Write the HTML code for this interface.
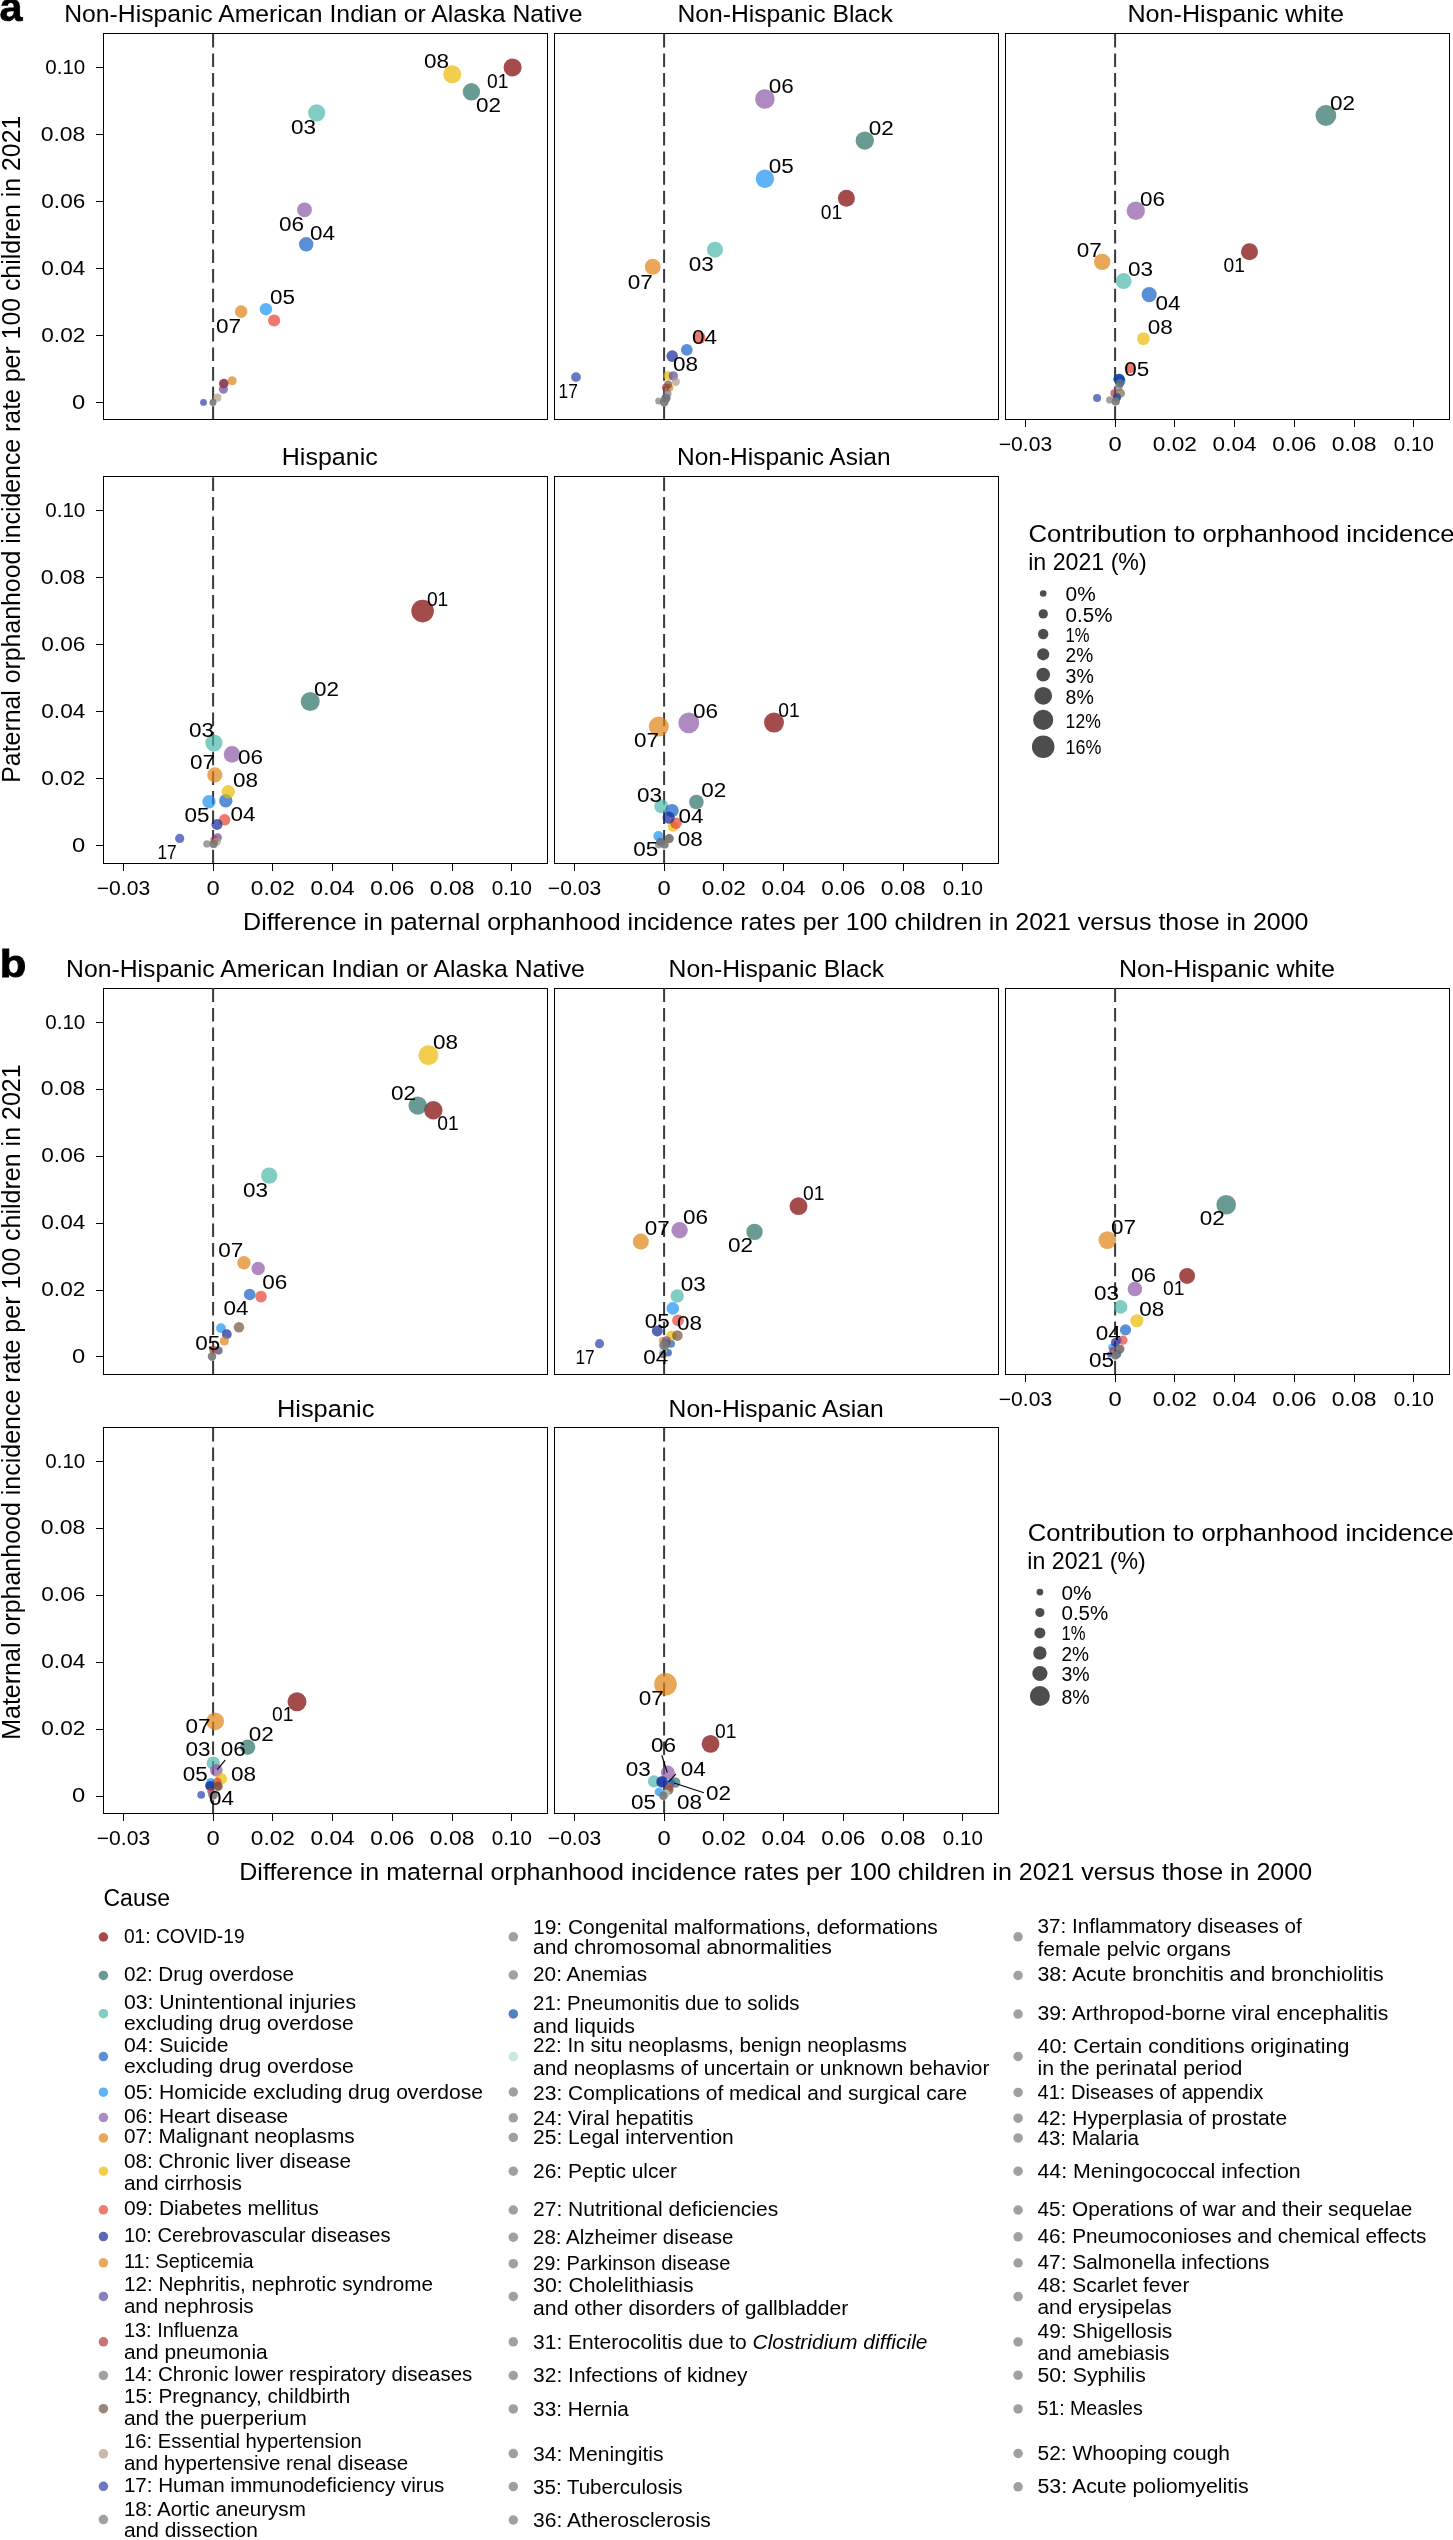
<!DOCTYPE html>
<html><head><meta charset="utf-8"><title>Figure</title>
<style>
html,body{margin:0;padding:0;background:#fff;}
svg{display:block;will-change:transform;}
text{font-family:"Liberation Sans", sans-serif;fill:#000;}
</style></head>
<body>
<svg width="1453" height="2540" viewBox="0 0 1453 2540">
<rect width="1453" height="2540" fill="#fff"/>
<text x="-0.4" y="21.2" font-size="41" font-weight="bold" textLength="23" lengthAdjust="spacingAndGlyphs" stroke="#000" stroke-width="0.7">a</text>
<text x="-0.3" y="976.7" font-size="38.5" font-weight="bold" textLength="26.6" lengthAdjust="spacingAndGlyphs" stroke="#000" stroke-width="0.9">b</text>
<text x="64.2" y="22" font-size="24.5" textLength="518.3" lengthAdjust="spacingAndGlyphs">Non-Hispanic American Indian or Alaska Native</text>
<text x="677.4" y="22.2" font-size="24.5" textLength="215.4" lengthAdjust="spacingAndGlyphs">Non-Hispanic Black</text>
<text x="1127.4" y="22.2" font-size="24.5" textLength="216.6" lengthAdjust="spacingAndGlyphs">Non-Hispanic white</text>
<text x="281.8" y="464.9" font-size="24.5" textLength="96" lengthAdjust="spacingAndGlyphs">Hispanic</text>
<text x="677" y="465" font-size="24.5" textLength="213.6" lengthAdjust="spacingAndGlyphs">Non-Hispanic Asian</text>
<text x="66" y="976.8" font-size="24.5" textLength="518.9" lengthAdjust="spacingAndGlyphs">Non-Hispanic American Indian or Alaska Native</text>
<text x="668.6" y="976.8" font-size="24.5" textLength="215.6" lengthAdjust="spacingAndGlyphs">Non-Hispanic Black</text>
<text x="1118.9" y="976.8" font-size="24.5" textLength="216.1" lengthAdjust="spacingAndGlyphs">Non-Hispanic white</text>
<text x="276.9" y="1417.1" font-size="24.5" textLength="97.5" lengthAdjust="spacingAndGlyphs">Hispanic</text>
<text x="668.6" y="1417.1" font-size="24.5" textLength="215" lengthAdjust="spacingAndGlyphs">Non-Hispanic Asian</text>
<g fill="none" stroke="#000" stroke-width="1" shape-rendering="crispEdges">
<rect x="103.5" y="33.5" width="444" height="386"/>
<line x1="96" y1="402.5" x2="103" y2="402.5"/>
<line x1="96" y1="335.5" x2="103" y2="335.5"/>
<line x1="96" y1="268.5" x2="103" y2="268.5"/>
<line x1="96" y1="201.5" x2="103" y2="201.5"/>
<line x1="96" y1="134.5" x2="103" y2="134.5"/>
<line x1="96" y1="67.5" x2="103" y2="67.5"/>
<rect x="554.5" y="33.5" width="444" height="386"/>
<rect x="1005.5" y="33.5" width="444" height="386"/>
<line x1="1025.5" y1="419" x2="1025.5" y2="427"/>
<line x1="1115.5" y1="419" x2="1115.5" y2="427"/>
<line x1="1174.5" y1="419" x2="1174.5" y2="427"/>
<line x1="1234.5" y1="419" x2="1234.5" y2="427"/>
<line x1="1294.5" y1="419" x2="1294.5" y2="427"/>
<line x1="1354.5" y1="419" x2="1354.5" y2="427"/>
<line x1="1413.5" y1="419" x2="1413.5" y2="427"/>
<rect x="103.5" y="476.5" width="444" height="387"/>
<line x1="96" y1="845.5" x2="103" y2="845.5"/>
<line x1="96" y1="778.5" x2="103" y2="778.5"/>
<line x1="96" y1="711.5" x2="103" y2="711.5"/>
<line x1="96" y1="644.5" x2="103" y2="644.5"/>
<line x1="96" y1="577.5" x2="103" y2="577.5"/>
<line x1="96" y1="510.5" x2="103" y2="510.5"/>
<line x1="123.5" y1="863" x2="123.5" y2="871"/>
<line x1="213.5" y1="863" x2="213.5" y2="871"/>
<line x1="272.5" y1="863" x2="272.5" y2="871"/>
<line x1="332.5" y1="863" x2="332.5" y2="871"/>
<line x1="392.5" y1="863" x2="392.5" y2="871"/>
<line x1="452.5" y1="863" x2="452.5" y2="871"/>
<line x1="511.5" y1="863" x2="511.5" y2="871"/>
<rect x="554.5" y="476.5" width="444" height="387"/>
<line x1="574.5" y1="863" x2="574.5" y2="871"/>
<line x1="664.5" y1="863" x2="664.5" y2="871"/>
<line x1="723.5" y1="863" x2="723.5" y2="871"/>
<line x1="783.5" y1="863" x2="783.5" y2="871"/>
<line x1="843.5" y1="863" x2="843.5" y2="871"/>
<line x1="903.5" y1="863" x2="903.5" y2="871"/>
<line x1="962.5" y1="863" x2="962.5" y2="871"/>
<rect x="103.5" y="988.5" width="444" height="386"/>
<line x1="96" y1="1356.5" x2="103" y2="1356.5"/>
<line x1="96" y1="1290.5" x2="103" y2="1290.5"/>
<line x1="96" y1="1223.5" x2="103" y2="1223.5"/>
<line x1="96" y1="1156.5" x2="103" y2="1156.5"/>
<line x1="96" y1="1089.5" x2="103" y2="1089.5"/>
<line x1="96" y1="1022.5" x2="103" y2="1022.5"/>
<rect x="554.5" y="988.5" width="444" height="386"/>
<rect x="1005.5" y="988.5" width="444" height="386"/>
<line x1="1025.5" y1="1374" x2="1025.5" y2="1382"/>
<line x1="1115.5" y1="1374" x2="1115.5" y2="1382"/>
<line x1="1174.5" y1="1374" x2="1174.5" y2="1382"/>
<line x1="1234.5" y1="1374" x2="1234.5" y2="1382"/>
<line x1="1294.5" y1="1374" x2="1294.5" y2="1382"/>
<line x1="1354.5" y1="1374" x2="1354.5" y2="1382"/>
<line x1="1413.5" y1="1374" x2="1413.5" y2="1382"/>
<rect x="103.5" y="1427.5" width="444" height="386"/>
<line x1="96" y1="1796.5" x2="103" y2="1796.5"/>
<line x1="96" y1="1729.5" x2="103" y2="1729.5"/>
<line x1="96" y1="1662.5" x2="103" y2="1662.5"/>
<line x1="96" y1="1595.5" x2="103" y2="1595.5"/>
<line x1="96" y1="1528.5" x2="103" y2="1528.5"/>
<line x1="96" y1="1461.5" x2="103" y2="1461.5"/>
<line x1="123.5" y1="1813" x2="123.5" y2="1821"/>
<line x1="213.5" y1="1813" x2="213.5" y2="1821"/>
<line x1="272.5" y1="1813" x2="272.5" y2="1821"/>
<line x1="332.5" y1="1813" x2="332.5" y2="1821"/>
<line x1="392.5" y1="1813" x2="392.5" y2="1821"/>
<line x1="452.5" y1="1813" x2="452.5" y2="1821"/>
<line x1="511.5" y1="1813" x2="511.5" y2="1821"/>
<rect x="554.5" y="1427.5" width="444" height="386"/>
<line x1="574.5" y1="1813" x2="574.5" y2="1821"/>
<line x1="664.5" y1="1813" x2="664.5" y2="1821"/>
<line x1="723.5" y1="1813" x2="723.5" y2="1821"/>
<line x1="783.5" y1="1813" x2="783.5" y2="1821"/>
<line x1="843.5" y1="1813" x2="843.5" y2="1821"/>
<line x1="903.5" y1="1813" x2="903.5" y2="1821"/>
<line x1="962.5" y1="1813" x2="962.5" y2="1821"/>
</g>
<g stroke="#3a3a3a" stroke-width="2" stroke-dasharray="13.6 6.0">
<line x1="213.1" y1="33.9" x2="213.1" y2="419"/>
<line x1="664.1" y1="33.9" x2="664.1" y2="419"/>
<line x1="1115.1" y1="33.9" x2="1115.1" y2="419"/>
<line x1="213.1" y1="477.3" x2="213.1" y2="863"/>
<line x1="664.1" y1="477.3" x2="664.1" y2="863"/>
<line x1="213.1" y1="988.3" x2="213.1" y2="1374"/>
<line x1="664.1" y1="988.3" x2="664.1" y2="1374"/>
<line x1="1115.1" y1="988.3" x2="1115.1" y2="1374"/>
<line x1="213.1" y1="1427.8" x2="213.1" y2="1813"/>
<line x1="664.1" y1="1427.8" x2="664.1" y2="1813"/>
</g>
<text x="85.3" y="408.9" font-size="20" text-anchor="end" textLength="13.2" lengthAdjust="spacingAndGlyphs">0</text>
<text x="85.3" y="341.92" font-size="20" text-anchor="end" textLength="44" lengthAdjust="spacingAndGlyphs">0.02</text>
<text x="85.3" y="274.94" font-size="20" text-anchor="end" textLength="44" lengthAdjust="spacingAndGlyphs">0.04</text>
<text x="85.3" y="207.96" font-size="20" text-anchor="end" textLength="44" lengthAdjust="spacingAndGlyphs">0.06</text>
<text x="85.3" y="140.98" font-size="20" text-anchor="end" textLength="44.6" lengthAdjust="spacingAndGlyphs">0.08</text>
<text x="85.3" y="74" font-size="20" text-anchor="end" textLength="40" lengthAdjust="spacingAndGlyphs">0.10</text>
<text x="1025.47" y="451.3" font-size="20" text-anchor="middle" textLength="53.3" lengthAdjust="spacingAndGlyphs">−0.03</text>
<text x="1115.1" y="451.3" font-size="20" text-anchor="middle" textLength="13.2" lengthAdjust="spacingAndGlyphs">0</text>
<text x="1174.85" y="451.3" font-size="20" text-anchor="middle" textLength="44" lengthAdjust="spacingAndGlyphs">0.02</text>
<text x="1234.6" y="451.3" font-size="20" text-anchor="middle" textLength="44" lengthAdjust="spacingAndGlyphs">0.04</text>
<text x="1294.35" y="451.3" font-size="20" text-anchor="middle" textLength="44" lengthAdjust="spacingAndGlyphs">0.06</text>
<text x="1354.1" y="451.3" font-size="20" text-anchor="middle" textLength="44.6" lengthAdjust="spacingAndGlyphs">0.08</text>
<text x="1413.85" y="451.3" font-size="20" text-anchor="middle" textLength="40" lengthAdjust="spacingAndGlyphs">0.10</text>
<text x="85.3" y="851.9" font-size="20" text-anchor="end" textLength="13.2" lengthAdjust="spacingAndGlyphs">0</text>
<text x="85.3" y="784.92" font-size="20" text-anchor="end" textLength="44" lengthAdjust="spacingAndGlyphs">0.02</text>
<text x="85.3" y="717.94" font-size="20" text-anchor="end" textLength="44" lengthAdjust="spacingAndGlyphs">0.04</text>
<text x="85.3" y="650.96" font-size="20" text-anchor="end" textLength="44" lengthAdjust="spacingAndGlyphs">0.06</text>
<text x="85.3" y="583.98" font-size="20" text-anchor="end" textLength="44.6" lengthAdjust="spacingAndGlyphs">0.08</text>
<text x="85.3" y="517" font-size="20" text-anchor="end" textLength="40" lengthAdjust="spacingAndGlyphs">0.10</text>
<text x="123.47" y="895.3" font-size="20" text-anchor="middle" textLength="53.3" lengthAdjust="spacingAndGlyphs">−0.03</text>
<text x="213.1" y="895.3" font-size="20" text-anchor="middle" textLength="13.2" lengthAdjust="spacingAndGlyphs">0</text>
<text x="272.85" y="895.3" font-size="20" text-anchor="middle" textLength="44" lengthAdjust="spacingAndGlyphs">0.02</text>
<text x="332.6" y="895.3" font-size="20" text-anchor="middle" textLength="44" lengthAdjust="spacingAndGlyphs">0.04</text>
<text x="392.35" y="895.3" font-size="20" text-anchor="middle" textLength="44" lengthAdjust="spacingAndGlyphs">0.06</text>
<text x="452.1" y="895.3" font-size="20" text-anchor="middle" textLength="44.6" lengthAdjust="spacingAndGlyphs">0.08</text>
<text x="511.85" y="895.3" font-size="20" text-anchor="middle" textLength="40" lengthAdjust="spacingAndGlyphs">0.10</text>
<text x="574.48" y="895.3" font-size="20" text-anchor="middle" textLength="53.3" lengthAdjust="spacingAndGlyphs">−0.03</text>
<text x="664.1" y="895.3" font-size="20" text-anchor="middle" textLength="13.2" lengthAdjust="spacingAndGlyphs">0</text>
<text x="723.85" y="895.3" font-size="20" text-anchor="middle" textLength="44" lengthAdjust="spacingAndGlyphs">0.02</text>
<text x="783.6" y="895.3" font-size="20" text-anchor="middle" textLength="44" lengthAdjust="spacingAndGlyphs">0.04</text>
<text x="843.35" y="895.3" font-size="20" text-anchor="middle" textLength="44" lengthAdjust="spacingAndGlyphs">0.06</text>
<text x="903.1" y="895.3" font-size="20" text-anchor="middle" textLength="44.6" lengthAdjust="spacingAndGlyphs">0.08</text>
<text x="962.85" y="895.3" font-size="20" text-anchor="middle" textLength="40" lengthAdjust="spacingAndGlyphs">0.10</text>
<text x="85.3" y="1363.4" font-size="20" text-anchor="end" textLength="13.2" lengthAdjust="spacingAndGlyphs">0</text>
<text x="85.3" y="1296.42" font-size="20" text-anchor="end" textLength="44" lengthAdjust="spacingAndGlyphs">0.02</text>
<text x="85.3" y="1229.44" font-size="20" text-anchor="end" textLength="44" lengthAdjust="spacingAndGlyphs">0.04</text>
<text x="85.3" y="1162.46" font-size="20" text-anchor="end" textLength="44" lengthAdjust="spacingAndGlyphs">0.06</text>
<text x="85.3" y="1095.48" font-size="20" text-anchor="end" textLength="44.6" lengthAdjust="spacingAndGlyphs">0.08</text>
<text x="85.3" y="1028.5" font-size="20" text-anchor="end" textLength="40" lengthAdjust="spacingAndGlyphs">0.10</text>
<text x="1025.47" y="1406.3" font-size="20" text-anchor="middle" textLength="53.3" lengthAdjust="spacingAndGlyphs">−0.03</text>
<text x="1115.1" y="1406.3" font-size="20" text-anchor="middle" textLength="13.2" lengthAdjust="spacingAndGlyphs">0</text>
<text x="1174.85" y="1406.3" font-size="20" text-anchor="middle" textLength="44" lengthAdjust="spacingAndGlyphs">0.02</text>
<text x="1234.6" y="1406.3" font-size="20" text-anchor="middle" textLength="44" lengthAdjust="spacingAndGlyphs">0.04</text>
<text x="1294.35" y="1406.3" font-size="20" text-anchor="middle" textLength="44" lengthAdjust="spacingAndGlyphs">0.06</text>
<text x="1354.1" y="1406.3" font-size="20" text-anchor="middle" textLength="44.6" lengthAdjust="spacingAndGlyphs">0.08</text>
<text x="1413.85" y="1406.3" font-size="20" text-anchor="middle" textLength="40" lengthAdjust="spacingAndGlyphs">0.10</text>
<text x="85.3" y="1802.4" font-size="20" text-anchor="end" textLength="13.2" lengthAdjust="spacingAndGlyphs">0</text>
<text x="85.3" y="1735.42" font-size="20" text-anchor="end" textLength="44" lengthAdjust="spacingAndGlyphs">0.02</text>
<text x="85.3" y="1668.44" font-size="20" text-anchor="end" textLength="44" lengthAdjust="spacingAndGlyphs">0.04</text>
<text x="85.3" y="1601.46" font-size="20" text-anchor="end" textLength="44" lengthAdjust="spacingAndGlyphs">0.06</text>
<text x="85.3" y="1534.48" font-size="20" text-anchor="end" textLength="44.6" lengthAdjust="spacingAndGlyphs">0.08</text>
<text x="85.3" y="1467.5" font-size="20" text-anchor="end" textLength="40" lengthAdjust="spacingAndGlyphs">0.10</text>
<text x="123.47" y="1845.3" font-size="20" text-anchor="middle" textLength="53.3" lengthAdjust="spacingAndGlyphs">−0.03</text>
<text x="213.1" y="1845.3" font-size="20" text-anchor="middle" textLength="13.2" lengthAdjust="spacingAndGlyphs">0</text>
<text x="272.85" y="1845.3" font-size="20" text-anchor="middle" textLength="44" lengthAdjust="spacingAndGlyphs">0.02</text>
<text x="332.6" y="1845.3" font-size="20" text-anchor="middle" textLength="44" lengthAdjust="spacingAndGlyphs">0.04</text>
<text x="392.35" y="1845.3" font-size="20" text-anchor="middle" textLength="44" lengthAdjust="spacingAndGlyphs">0.06</text>
<text x="452.1" y="1845.3" font-size="20" text-anchor="middle" textLength="44.6" lengthAdjust="spacingAndGlyphs">0.08</text>
<text x="511.85" y="1845.3" font-size="20" text-anchor="middle" textLength="40" lengthAdjust="spacingAndGlyphs">0.10</text>
<text x="574.48" y="1845.3" font-size="20" text-anchor="middle" textLength="53.3" lengthAdjust="spacingAndGlyphs">−0.03</text>
<text x="664.1" y="1845.3" font-size="20" text-anchor="middle" textLength="13.2" lengthAdjust="spacingAndGlyphs">0</text>
<text x="723.85" y="1845.3" font-size="20" text-anchor="middle" textLength="44" lengthAdjust="spacingAndGlyphs">0.02</text>
<text x="783.6" y="1845.3" font-size="20" text-anchor="middle" textLength="44" lengthAdjust="spacingAndGlyphs">0.04</text>
<text x="843.35" y="1845.3" font-size="20" text-anchor="middle" textLength="44" lengthAdjust="spacingAndGlyphs">0.06</text>
<text x="903.1" y="1845.3" font-size="20" text-anchor="middle" textLength="44.6" lengthAdjust="spacingAndGlyphs">0.08</text>
<text x="962.85" y="1845.3" font-size="20" text-anchor="middle" textLength="40" lengthAdjust="spacingAndGlyphs">0.10</text>
<g fill-opacity="0.7">
<circle cx="512.6" cy="67.4" r="9" fill="#7E0000"/>
<circle cx="471.4" cy="91.8" r="8.7" fill="#2A6F65"/>
<circle cx="316.7" cy="112.8" r="8.6" fill="#4CB6A9"/>
<circle cx="306.2" cy="244.3" r="7.2" fill="#135FC4"/>
<circle cx="265.9" cy="309.2" r="6.2" fill="#1992F1"/>
<circle cx="304.5" cy="209.8" r="7.4" fill="#8B59A6"/>
<circle cx="241.1" cy="311.6" r="6.3" fill="#E08113"/>
<circle cx="452.3" cy="74.3" r="9" fill="#EBBA00"/>
<circle cx="274.1" cy="320.5" r="6.1" fill="#E74230"/>
<circle cx="224" cy="383.5" r="4.7" fill="#132795"/>
<circle cx="232.2" cy="380.7" r="4.5" fill="#E08113"/>
<circle cx="223.4" cy="389.2" r="4.5" fill="#5948A4"/>
<circle cx="223.4" cy="383.7" r="4.5" fill="#B03838"/>
<circle cx="217.3" cy="397.7" r="4.1" fill="#B29A83"/>
<circle cx="203.5" cy="402.4" r="3.4" fill="#2A3EA8"/>
<circle cx="213" cy="402.4" r="3.4" fill="#777777"/>
<circle cx="213" cy="402.4" r="3.4" fill="#777777"/>
</g>
<text x="424" y="67.7" font-size="20" textLength="25" lengthAdjust="spacingAndGlyphs">08</text>
<text x="487.1" y="88" font-size="20" textLength="21.4" lengthAdjust="spacingAndGlyphs">01</text>
<text x="476" y="112" font-size="20" textLength="25" lengthAdjust="spacingAndGlyphs">02</text>
<text x="291.1" y="133.8" font-size="20" textLength="25" lengthAdjust="spacingAndGlyphs">03</text>
<text x="279.1" y="231" font-size="20" textLength="25" lengthAdjust="spacingAndGlyphs">06</text>
<text x="310.1" y="240" font-size="20" textLength="25" lengthAdjust="spacingAndGlyphs">04</text>
<text x="269.9" y="304.2" font-size="20" textLength="25" lengthAdjust="spacingAndGlyphs">05</text>
<text x="215.9" y="333.2" font-size="20" textLength="25" lengthAdjust="spacingAndGlyphs">07</text>
<g fill-opacity="0.7">
<circle cx="846.4" cy="198.3" r="8.5" fill="#7E0000"/>
<circle cx="864.8" cy="140.6" r="9.2" fill="#2A6F65"/>
<circle cx="715" cy="249.7" r="8" fill="#4CB6A9"/>
<circle cx="686.8" cy="349.8" r="5.9" fill="#135FC4"/>
<circle cx="764.9" cy="178.8" r="9.2" fill="#1992F1"/>
<circle cx="764.9" cy="99" r="9.8" fill="#8B59A6"/>
<circle cx="652.7" cy="266.8" r="8" fill="#E08113"/>
<circle cx="668.1" cy="375.7" r="4.7" fill="#EBBA00"/>
<circle cx="699.2" cy="337.7" r="6.3" fill="#E74230"/>
<circle cx="672.2" cy="356.1" r="5.8" fill="#132795"/>
<circle cx="669.7" cy="387.8" r="3.8" fill="#E08113"/>
<circle cx="673.3" cy="375.9" r="4.7" fill="#5948A4"/>
<circle cx="665.9" cy="387.5" r="4" fill="#B03838"/>
<circle cx="668.1" cy="384.5" r="4" fill="#72523B"/>
<circle cx="675.8" cy="381.7" r="4.2" fill="#B29A83"/>
<circle cx="576" cy="377.1" r="4.9" fill="#2A3EA8"/>
<circle cx="665.9" cy="398.2" r="4.5" fill="#094AA5"/>
<circle cx="667.5" cy="393.8" r="4" fill="#777777"/>
<circle cx="665.9" cy="398.2" r="4.5" fill="#777777"/>
<circle cx="664.2" cy="402.1" r="4.3" fill="#777777"/>
<circle cx="664.2" cy="402.1" r="4.3" fill="#777777"/>
<circle cx="658.7" cy="401" r="3.5" fill="#777777"/>
</g>
<text x="768.8" y="92.6" font-size="20" textLength="25" lengthAdjust="spacingAndGlyphs">06</text>
<text x="868.8" y="134.8" font-size="20" textLength="25" lengthAdjust="spacingAndGlyphs">02</text>
<text x="768.8" y="173" font-size="20" textLength="25" lengthAdjust="spacingAndGlyphs">05</text>
<text x="820.8" y="218.8" font-size="20" textLength="21.4" lengthAdjust="spacingAndGlyphs">01</text>
<text x="688.8" y="270.7" font-size="20" textLength="25" lengthAdjust="spacingAndGlyphs">03</text>
<text x="627.7" y="288.5" font-size="20" textLength="25" lengthAdjust="spacingAndGlyphs">07</text>
<text x="692.1" y="343.8" font-size="20" textLength="25" lengthAdjust="spacingAndGlyphs">04</text>
<text x="672.9" y="370.7" font-size="20" textLength="25" lengthAdjust="spacingAndGlyphs">08</text>
<text x="558.6" y="398.2" font-size="20" textLength="19.2" lengthAdjust="spacingAndGlyphs">17</text>
<g fill-opacity="0.7">
<circle cx="1249.5" cy="251.8" r="8.5" fill="#7E0000"/>
<circle cx="1325.9" cy="115.5" r="10.4" fill="#2A6F65"/>
<circle cx="1123.6" cy="281.1" r="8" fill="#4CB6A9"/>
<circle cx="1149.2" cy="294.6" r="7.6" fill="#135FC4"/>
<circle cx="1117" cy="397.3" r="4" fill="#135FC4"/>
<circle cx="1120.6" cy="380.8" r="5" fill="#1992F1"/>
<circle cx="1135.8" cy="210.8" r="9.2" fill="#8B59A6"/>
<circle cx="1102.2" cy="261.9" r="8.2" fill="#E08113"/>
<circle cx="1143.4" cy="338.6" r="6.4" fill="#EBBA00"/>
<circle cx="1130" cy="368" r="5.3" fill="#E74230"/>
<circle cx="1119.1" cy="379.3" r="5.6" fill="#132795"/>
<circle cx="1114.4" cy="393.2" r="4" fill="#B03838"/>
<circle cx="1120.6" cy="393.2" r="4.3" fill="#72523B"/>
<circle cx="1120.6" cy="393.2" r="4.3" fill="#B29A83"/>
<circle cx="1120.1" cy="383.3" r="4.2" fill="#2A3EA8"/>
<circle cx="1097.1" cy="398.1" r="4" fill="#2A3EA8"/>
<circle cx="1119.1" cy="379.3" r="5.6" fill="#094AA5"/>
<circle cx="1117" cy="397.3" r="4" fill="#094AA5"/>
<circle cx="1120.1" cy="383.3" r="4.2" fill="#777777"/>
<circle cx="1118.6" cy="387" r="4" fill="#777777"/>
<circle cx="1109.8" cy="399.9" r="3.7" fill="#777777"/>
<circle cx="1115.7" cy="401.5" r="4" fill="#777777"/>
<circle cx="1115.7" cy="401.5" r="4" fill="#777777"/>
</g>
<text x="1330.1" y="110" font-size="20" textLength="25" lengthAdjust="spacingAndGlyphs">02</text>
<text x="1140.1" y="205.6" font-size="20" textLength="25" lengthAdjust="spacingAndGlyphs">06</text>
<text x="1076.8" y="257" font-size="20" textLength="25" lengthAdjust="spacingAndGlyphs">07</text>
<text x="1127.9" y="276" font-size="20" textLength="25" lengthAdjust="spacingAndGlyphs">03</text>
<text x="1223.5" y="272" font-size="20" textLength="21.4" lengthAdjust="spacingAndGlyphs">01</text>
<text x="1155.4" y="309.5" font-size="20" textLength="25" lengthAdjust="spacingAndGlyphs">04</text>
<text x="1147.7" y="334" font-size="20" textLength="25" lengthAdjust="spacingAndGlyphs">08</text>
<text x="1124.2" y="375.9" font-size="20" textLength="25" lengthAdjust="spacingAndGlyphs">05</text>
<g fill-opacity="0.7">
<circle cx="422.6" cy="611.1" r="11.3" fill="#7E0000"/>
<circle cx="310.2" cy="701.5" r="9.5" fill="#2A6F65"/>
<circle cx="213.9" cy="742.8" r="8.6" fill="#4CB6A9"/>
<circle cx="225.8" cy="800.8" r="6.7" fill="#135FC4"/>
<circle cx="209" cy="801.7" r="6.7" fill="#1992F1"/>
<circle cx="232" cy="754.4" r="8.3" fill="#8B59A6"/>
<circle cx="214.8" cy="774.9" r="7.6" fill="#E08113"/>
<circle cx="228.3" cy="791.7" r="6.7" fill="#EBBA00"/>
<circle cx="224.6" cy="819.8" r="5.8" fill="#E74230"/>
<circle cx="217" cy="824.4" r="5.5" fill="#132795"/>
<circle cx="217.6" cy="837.5" r="4.3" fill="#5948A4"/>
<circle cx="214.5" cy="840" r="4.2" fill="#B03838"/>
<circle cx="217" cy="841.5" r="4" fill="#B29A83"/>
<circle cx="179.7" cy="838.4" r="4.6" fill="#2A3EA8"/>
<circle cx="206.9" cy="843.9" r="3.7" fill="#777777"/>
<circle cx="213.6" cy="843.9" r="4" fill="#777777"/>
<circle cx="213.6" cy="843.9" r="4" fill="#777777"/>
</g>
<text x="426.9" y="605.9" font-size="20" textLength="21.4" lengthAdjust="spacingAndGlyphs">01</text>
<text x="313.9" y="696" font-size="20" textLength="25" lengthAdjust="spacingAndGlyphs">02</text>
<text x="188.9" y="736.7" font-size="20" textLength="25" lengthAdjust="spacingAndGlyphs">03</text>
<text x="238.1" y="763.8" font-size="20" textLength="25" lengthAdjust="spacingAndGlyphs">06</text>
<text x="190.1" y="768.7" font-size="20" textLength="25" lengthAdjust="spacingAndGlyphs">07</text>
<text x="232.9" y="787.1" font-size="20" textLength="25" lengthAdjust="spacingAndGlyphs">08</text>
<text x="184.6" y="821.9" font-size="20" textLength="25" lengthAdjust="spacingAndGlyphs">05</text>
<text x="230.4" y="821.3" font-size="20" textLength="25" lengthAdjust="spacingAndGlyphs">04</text>
<text x="157.4" y="858.6" font-size="20" textLength="19.2" lengthAdjust="spacingAndGlyphs">17</text>
<g fill-opacity="0.7">
<circle cx="774" cy="722.6" r="10" fill="#7E0000"/>
<circle cx="696.4" cy="802" r="7.3" fill="#2A6F65"/>
<circle cx="661.3" cy="806.3" r="7" fill="#4CB6A9"/>
<circle cx="672" cy="810.6" r="6.7" fill="#135FC4"/>
<circle cx="658.4" cy="836.1" r="5" fill="#1992F1"/>
<circle cx="688.8" cy="722.9" r="10.4" fill="#8B59A6"/>
<circle cx="658.8" cy="726.6" r="10" fill="#E08113"/>
<circle cx="673.2" cy="826.5" r="5.2" fill="#EBBA00"/>
<circle cx="676" cy="823.2" r="5.8" fill="#E74230"/>
<circle cx="668.6" cy="817.6" r="6.1" fill="#132795"/>
<circle cx="669.2" cy="838.6" r="4.5" fill="#72523B"/>
<circle cx="660.5" cy="841.9" r="4" fill="#094AA5"/>
<circle cx="669.2" cy="838.6" r="4.5" fill="#777777"/>
<circle cx="658.8" cy="844.4" r="3.8" fill="#777777"/>
<circle cx="660.5" cy="841.9" r="4" fill="#777777"/>
<circle cx="664.6" cy="844.4" r="4" fill="#777777"/>
<circle cx="664.6" cy="844.4" r="4" fill="#777777"/>
</g>
<text x="693.1" y="718" font-size="20" textLength="25" lengthAdjust="spacingAndGlyphs">06</text>
<text x="778.3" y="717.4" font-size="20" textLength="21.4" lengthAdjust="spacingAndGlyphs">01</text>
<text x="634.1" y="747" font-size="20" textLength="25" lengthAdjust="spacingAndGlyphs">07</text>
<text x="701.3" y="796.9" font-size="20" textLength="25" lengthAdjust="spacingAndGlyphs">02</text>
<text x="637.1" y="802.4" font-size="20" textLength="25" lengthAdjust="spacingAndGlyphs">03</text>
<text x="678.4" y="822.8" font-size="20" textLength="25" lengthAdjust="spacingAndGlyphs">04</text>
<text x="677.8" y="845.7" font-size="20" textLength="25" lengthAdjust="spacingAndGlyphs">08</text>
<text x="633.2" y="856.4" font-size="20" textLength="25" lengthAdjust="spacingAndGlyphs">05</text>
<g fill-opacity="0.7">
<circle cx="433.3" cy="1110.2" r="9.2" fill="#7E0000"/>
<circle cx="417.7" cy="1105.6" r="9.2" fill="#2A6F65"/>
<circle cx="269.2" cy="1175.6" r="8.2" fill="#4CB6A9"/>
<circle cx="249.7" cy="1294.5" r="5.8" fill="#135FC4"/>
<circle cx="221" cy="1328.1" r="4.9" fill="#1992F1"/>
<circle cx="258.2" cy="1268.5" r="6.7" fill="#8B59A6"/>
<circle cx="243.9" cy="1262.7" r="6.7" fill="#E08113"/>
<circle cx="428.4" cy="1055.2" r="10" fill="#EBBA00"/>
<circle cx="261" cy="1296.6" r="5.8" fill="#E74230"/>
<circle cx="226.8" cy="1334.2" r="4.9" fill="#132795"/>
<circle cx="224.3" cy="1341" r="4.6" fill="#E08113"/>
<circle cx="218.5" cy="1350.4" r="4" fill="#5948A4"/>
<circle cx="213.2" cy="1349.7" r="3.9" fill="#B03838"/>
<circle cx="239" cy="1327.2" r="5.2" fill="#72523B"/>
<circle cx="218.5" cy="1350.4" r="4" fill="#777777"/>
<circle cx="212" cy="1356.5" r="4.2" fill="#777777"/>
<circle cx="212" cy="1356.5" r="4.2" fill="#777777"/>
</g>
<text x="433.1" y="1049.1" font-size="20" textLength="25" lengthAdjust="spacingAndGlyphs">08</text>
<text x="390.9" y="1099.8" font-size="20" textLength="25" lengthAdjust="spacingAndGlyphs">02</text>
<text x="437.3" y="1130.1" font-size="20" textLength="21.4" lengthAdjust="spacingAndGlyphs">01</text>
<text x="243" y="1196.7" font-size="20" textLength="25" lengthAdjust="spacingAndGlyphs">03</text>
<text x="218.2" y="1256.9" font-size="20" textLength="25" lengthAdjust="spacingAndGlyphs">07</text>
<text x="262.2" y="1289" font-size="20" textLength="25" lengthAdjust="spacingAndGlyphs">06</text>
<text x="223.4" y="1315" font-size="20" textLength="25" lengthAdjust="spacingAndGlyphs">04</text>
<text x="195.3" y="1349.5" font-size="20" textLength="25" lengthAdjust="spacingAndGlyphs">05</text>
<g fill-opacity="0.7">
<circle cx="798.5" cy="1206.2" r="8.9" fill="#7E0000"/>
<circle cx="754.5" cy="1231.9" r="8.2" fill="#2A6F65"/>
<circle cx="677.2" cy="1296" r="6.7" fill="#4CB6A9"/>
<circle cx="671" cy="1343.7" r="4" fill="#135FC4"/>
<circle cx="672.8" cy="1308.4" r="6.3" fill="#1992F1"/>
<circle cx="679.6" cy="1230.3" r="8.2" fill="#8B59A6"/>
<circle cx="640.8" cy="1241.6" r="8" fill="#E08113"/>
<circle cx="671.4" cy="1335.8" r="5.2" fill="#EBBA00"/>
<circle cx="678" cy="1320.3" r="5.9" fill="#E74230"/>
<circle cx="657.3" cy="1330.9" r="5.5" fill="#132795"/>
<circle cx="662.3" cy="1340.4" r="3.5" fill="#E08113"/>
<circle cx="666.4" cy="1340.8" r="4.5" fill="#5948A4"/>
<circle cx="677.4" cy="1335.6" r="5.3" fill="#72523B"/>
<circle cx="666.4" cy="1343.5" r="4" fill="#72523B"/>
<circle cx="599.5" cy="1343.7" r="4.6" fill="#2A3EA8"/>
<circle cx="668.1" cy="1352.8" r="3.8" fill="#094AA5"/>
<circle cx="663.1" cy="1351.1" r="4" fill="#B0DED6"/>
<circle cx="664.4" cy="1345.3" r="5" fill="#777777"/>
<circle cx="664.4" cy="1345.3" r="5" fill="#777777"/>
<circle cx="663.1" cy="1354.4" r="3.7" fill="#777777"/>
<circle cx="663.1" cy="1354.4" r="3.7" fill="#777777"/>
</g>
<text x="803.1" y="1199.8" font-size="20" textLength="21.4" lengthAdjust="spacingAndGlyphs">01</text>
<text x="683" y="1224.2" font-size="20" textLength="25" lengthAdjust="spacingAndGlyphs">06</text>
<text x="644.8" y="1234.9" font-size="20" textLength="25" lengthAdjust="spacingAndGlyphs">07</text>
<text x="727.9" y="1252.3" font-size="20" textLength="25" lengthAdjust="spacingAndGlyphs">02</text>
<text x="680.8" y="1290.5" font-size="20" textLength="25" lengthAdjust="spacingAndGlyphs">03</text>
<text x="644.8" y="1327.8" font-size="20" textLength="25" lengthAdjust="spacingAndGlyphs">05</text>
<text x="676.9" y="1329.6" font-size="20" textLength="25" lengthAdjust="spacingAndGlyphs">08</text>
<text x="575.4" y="1363.9" font-size="20" textLength="19.2" lengthAdjust="spacingAndGlyphs">17</text>
<text x="643.2" y="1363.9" font-size="20" textLength="25" lengthAdjust="spacingAndGlyphs">04</text>
<g fill-opacity="0.7">
<circle cx="1187.1" cy="1275.9" r="8" fill="#7E0000"/>
<circle cx="1226.2" cy="1204.7" r="9.8" fill="#2A6F65"/>
<circle cx="1120.6" cy="1306.9" r="6.8" fill="#4CB6A9"/>
<circle cx="1125.5" cy="1329.9" r="5.6" fill="#135FC4"/>
<circle cx="1111.8" cy="1347.3" r="3.5" fill="#1992F1"/>
<circle cx="1134.9" cy="1289" r="7.3" fill="#8B59A6"/>
<circle cx="1107.4" cy="1240.1" r="8.9" fill="#E08113"/>
<circle cx="1136.9" cy="1320.7" r="6.5" fill="#EBBA00"/>
<circle cx="1123" cy="1340.2" r="4.6" fill="#E74230"/>
<circle cx="1115.4" cy="1342.4" r="4.5" fill="#132795"/>
<circle cx="1118.1" cy="1340.2" r="3.5" fill="#5948A4"/>
<circle cx="1112.7" cy="1350.5" r="3.5" fill="#B03838"/>
<circle cx="1119.9" cy="1349.1" r="4.6" fill="#72523B"/>
<circle cx="1110" cy="1354.5" r="3" fill="#2A3EA8"/>
<circle cx="1117.2" cy="1354.1" r="4" fill="#094AA5"/>
<circle cx="1119.9" cy="1349.1" r="4" fill="#777777"/>
<circle cx="1115.4" cy="1355.4" r="4" fill="#777777"/>
<circle cx="1115.4" cy="1355.4" r="4" fill="#777777"/>
</g>
<text x="1199.7" y="1225.1" font-size="20" textLength="25" lengthAdjust="spacingAndGlyphs">02</text>
<text x="1111.1" y="1234" font-size="20" textLength="25" lengthAdjust="spacingAndGlyphs">07</text>
<text x="1130.9" y="1282.3" font-size="20" textLength="25" lengthAdjust="spacingAndGlyphs">06</text>
<text x="1163" y="1294.5" font-size="20" textLength="21.4" lengthAdjust="spacingAndGlyphs">01</text>
<text x="1093.9" y="1300.3" font-size="20" textLength="25" lengthAdjust="spacingAndGlyphs">03</text>
<text x="1139.2" y="1315.9" font-size="20" textLength="25" lengthAdjust="spacingAndGlyphs">08</text>
<text x="1095.8" y="1340.3" font-size="20" textLength="25" lengthAdjust="spacingAndGlyphs">04</text>
<text x="1089.1" y="1366.9" font-size="20" textLength="25" lengthAdjust="spacingAndGlyphs">05</text>
<g fill-opacity="0.7">
<circle cx="297" cy="1701.7" r="9.5" fill="#7E0000"/>
<circle cx="247.7" cy="1747.2" r="7.6" fill="#2A6F65"/>
<circle cx="213.3" cy="1763.1" r="6.7" fill="#4CB6A9"/>
<circle cx="210" cy="1785.7" r="5" fill="#135FC4"/>
<circle cx="210.8" cy="1782.4" r="4.5" fill="#1992F1"/>
<circle cx="216.3" cy="1770.3" r="6.3" fill="#8B59A6"/>
<circle cx="215.1" cy="1721.3" r="8.9" fill="#E08113"/>
<circle cx="221.3" cy="1778.8" r="5.8" fill="#EBBA00"/>
<circle cx="217.4" cy="1781.8" r="4.2" fill="#E74230"/>
<circle cx="210" cy="1785.7" r="4.5" fill="#132795"/>
<circle cx="218" cy="1786.3" r="4" fill="#B03838"/>
<circle cx="210.8" cy="1791.2" r="3.5" fill="#B03838"/>
<circle cx="218" cy="1786.3" r="4.8" fill="#72523B"/>
<circle cx="201.2" cy="1794.8" r="3.9" fill="#2A3EA8"/>
<circle cx="213" cy="1795.1" r="4.6" fill="#777777"/>
<circle cx="213" cy="1795.1" r="4.6" fill="#777777"/>
</g>
<line x1="225.2" y1="1760.1" x2="217.2" y2="1769.7" stroke="#000" stroke-width="1.2"/>
<text x="272" y="1721" font-size="20" textLength="21.4" lengthAdjust="spacingAndGlyphs">01</text>
<text x="185.5" y="1732.6" font-size="20" textLength="25" lengthAdjust="spacingAndGlyphs">07</text>
<text x="248.8" y="1740.8" font-size="20" textLength="25" lengthAdjust="spacingAndGlyphs">02</text>
<text x="185.5" y="1756.4" font-size="20" textLength="25" lengthAdjust="spacingAndGlyphs">03</text>
<text x="220.7" y="1756.4" font-size="20" textLength="25" lengthAdjust="spacingAndGlyphs">06</text>
<text x="182.8" y="1780.9" font-size="20" textLength="25" lengthAdjust="spacingAndGlyphs">05</text>
<text x="231.1" y="1780.9" font-size="20" textLength="25" lengthAdjust="spacingAndGlyphs">08</text>
<text x="209.1" y="1805.3" font-size="20" textLength="25" lengthAdjust="spacingAndGlyphs">04</text>
<g fill-opacity="0.7">
<circle cx="710.5" cy="1743.9" r="8.9" fill="#7E0000"/>
<circle cx="675.2" cy="1782.5" r="5.2" fill="#2A6F65"/>
<circle cx="654" cy="1781.4" r="6.1" fill="#4CB6A9"/>
<circle cx="662" cy="1781.9" r="5" fill="#135FC4"/>
<circle cx="670.8" cy="1783" r="4.2" fill="#135FC4"/>
<circle cx="659" cy="1791.9" r="4.3" fill="#1992F1"/>
<circle cx="667.8" cy="1772.6" r="7" fill="#8B59A6"/>
<circle cx="665.5" cy="1684.3" r="11.3" fill="#E08113"/>
<circle cx="669.2" cy="1787.4" r="4.5" fill="#E74230"/>
<circle cx="662" cy="1781.9" r="5.8" fill="#132795"/>
<circle cx="668.6" cy="1790.2" r="4.8" fill="#72523B"/>
<circle cx="665.9" cy="1793.5" r="4" fill="#B0DED6"/>
<circle cx="663.4" cy="1795.7" r="4.2" fill="#777777"/>
<circle cx="663.4" cy="1795.7" r="4.2" fill="#777777"/>
</g>
<line x1="661.8" y1="1755.2" x2="667.3" y2="1772.6" stroke="#000" stroke-width="1.2"/>
<line x1="675.8" y1="1774" x2="668.4" y2="1782.2" stroke="#000" stroke-width="1.2"/>
<line x1="703.9" y1="1792.7" x2="674.1" y2="1783" stroke="#000" stroke-width="1.2"/>
<text x="638.7" y="1704.5" font-size="20" textLength="25" lengthAdjust="spacingAndGlyphs">07</text>
<text x="715.1" y="1737.8" font-size="20" textLength="21.4" lengthAdjust="spacingAndGlyphs">01</text>
<text x="650.9" y="1751.5" font-size="20" textLength="25" lengthAdjust="spacingAndGlyphs">06</text>
<text x="625.8" y="1776" font-size="20" textLength="25" lengthAdjust="spacingAndGlyphs">03</text>
<text x="680.8" y="1776" font-size="20" textLength="25" lengthAdjust="spacingAndGlyphs">04</text>
<text x="705.9" y="1799.8" font-size="20" textLength="25" lengthAdjust="spacingAndGlyphs">02</text>
<text x="631" y="1809" font-size="20" textLength="25" lengthAdjust="spacingAndGlyphs">05</text>
<text x="676.9" y="1809" font-size="20" textLength="25" lengthAdjust="spacingAndGlyphs">08</text>
<text x="243.1" y="929.8" font-size="24.5" textLength="1065.4" lengthAdjust="spacingAndGlyphs">Difference in paternal orphanhood incidence rates per 100 children in 2021 versus those in 2000</text>
<text x="239.3" y="1880.4" font-size="24.5" textLength="1072.8" lengthAdjust="spacingAndGlyphs">Difference in maternal orphanhood incidence rates per 100 children in 2021 versus those in 2000</text>
<text transform="translate(20.0 782.7) rotate(-90)" x="0" y="0" font-size="25" textLength="667.0" lengthAdjust="spacingAndGlyphs">Paternal orphanhood incidence rate per 100 children in 2021</text>
<text transform="translate(20.0 1739.8) rotate(-90)" x="0" y="0" font-size="25" textLength="675.4" lengthAdjust="spacingAndGlyphs">Maternal orphanhood incidence rate per 100 children in 2021</text>
<text x="1028.6" y="541.8" font-size="24.5" textLength="426" lengthAdjust="spacingAndGlyphs">Contribution to orphanhood incidence</text>
<text x="1028.2" y="569.5" font-size="24.5" textLength="118.5" lengthAdjust="spacingAndGlyphs">in 2021 (%)</text>
<circle cx="1043.2" cy="593.5" r="3.3" fill="#4D4D4D"/>
<circle cx="1043.2" cy="613.9" r="4.7" fill="#4D4D4D"/>
<circle cx="1043.2" cy="634" r="5.2" fill="#4D4D4D"/>
<circle cx="1043.2" cy="654.3" r="6.1" fill="#4D4D4D"/>
<circle cx="1043.2" cy="674.7" r="6.85" fill="#4D4D4D"/>
<circle cx="1043.2" cy="695.8" r="8.9" fill="#4D4D4D"/>
<circle cx="1043.2" cy="719.8" r="10.1" fill="#4D4D4D"/>
<circle cx="1043.2" cy="746.8" r="11.3" fill="#4D4D4D"/>
<text x="1065.6" y="601.1" font-size="20" textLength="30.1" lengthAdjust="spacingAndGlyphs">0%</text>
<text x="1065.6" y="621.9" font-size="20" textLength="46.8" lengthAdjust="spacingAndGlyphs">0.5%</text>
<text x="1065.6" y="641.9" font-size="20" textLength="24" lengthAdjust="spacingAndGlyphs">1%</text>
<text x="1065.6" y="661.9" font-size="20" textLength="27.6" lengthAdjust="spacingAndGlyphs">2%</text>
<text x="1065.6" y="682.7" font-size="20" textLength="28.2" lengthAdjust="spacingAndGlyphs">3%</text>
<text x="1065.6" y="703.5" font-size="20" textLength="28.2" lengthAdjust="spacingAndGlyphs">8%</text>
<text x="1065.6" y="727.9" font-size="20" textLength="35.2" lengthAdjust="spacingAndGlyphs">12%</text>
<text x="1065.6" y="754.4" font-size="20" textLength="35.8" lengthAdjust="spacingAndGlyphs">16%</text>
<text x="1027.7" y="1541.2" font-size="24.5" textLength="426" lengthAdjust="spacingAndGlyphs">Contribution to orphanhood incidence</text>
<text x="1027.3" y="1568.6" font-size="24.5" textLength="118.5" lengthAdjust="spacingAndGlyphs">in 2021 (%)</text>
<circle cx="1039.9" cy="1592.1" r="3.4" fill="#4D4D4D"/>
<circle cx="1039.9" cy="1612.5" r="4.6" fill="#4D4D4D"/>
<circle cx="1039.9" cy="1632.9" r="5.5" fill="#4D4D4D"/>
<circle cx="1039.9" cy="1653" r="6.7" fill="#4D4D4D"/>
<circle cx="1039.9" cy="1673.5" r="7.6" fill="#4D4D4D"/>
<circle cx="1039.9" cy="1696" r="10" fill="#4D4D4D"/>
<text x="1061.5" y="1599.7" font-size="20" textLength="30.1" lengthAdjust="spacingAndGlyphs">0%</text>
<text x="1061.5" y="1619.8" font-size="20" textLength="46.8" lengthAdjust="spacingAndGlyphs">0.5%</text>
<text x="1061.5" y="1640.2" font-size="20" textLength="24" lengthAdjust="spacingAndGlyphs">1%</text>
<text x="1061.5" y="1660.7" font-size="20" textLength="27.6" lengthAdjust="spacingAndGlyphs">2%</text>
<text x="1061.5" y="1680.8" font-size="20" textLength="28.2" lengthAdjust="spacingAndGlyphs">3%</text>
<text x="1061.5" y="1703.7" font-size="20" textLength="28.2" lengthAdjust="spacingAndGlyphs">8%</text>
<text x="103.5" y="1906" font-size="23">Cause</text>
<circle cx="103.4" cy="1937" r="4.75" fill="#A54B4B"/>
<circle cx="103.4" cy="1975.4" r="4.75" fill="#6A9A93"/>
<circle cx="103.4" cy="2013.7" r="4.75" fill="#82CCC3"/>
<circle cx="103.4" cy="2056.6" r="4.75" fill="#5A8FD6"/>
<circle cx="103.4" cy="2092.2" r="4.75" fill="#5EB3F5"/>
<circle cx="103.4" cy="2117.6" r="4.75" fill="#AE8BC1"/>
<circle cx="103.4" cy="2137.9" r="4.75" fill="#E9A75A"/>
<circle cx="103.4" cy="2171.2" r="4.75" fill="#F1CF4A"/>
<circle cx="103.4" cy="2209.8" r="4.75" fill="#EE7B6E"/>
<circle cx="103.4" cy="2236.6" r="4.75" fill="#5A68B5"/>
<circle cx="103.4" cy="2262.8" r="4.75" fill="#E9A75A"/>
<circle cx="103.4" cy="2296.4" r="4.75" fill="#8B7FBF"/>
<circle cx="103.4" cy="2341.8" r="4.75" fill="#C87474"/>
<circle cx="103.4" cy="2375.4" r="4.75" fill="#A0A0A0"/>
<circle cx="103.4" cy="2408.7" r="4.75" fill="#9C8676"/>
<circle cx="103.4" cy="2453.8" r="4.75" fill="#C9B8A8"/>
<circle cx="103.4" cy="2486.3" r="4.75" fill="#6A78C2"/>
<circle cx="103.4" cy="2519.6" r="4.75" fill="#A0A0A0"/>
<text x="123.9" y="1942.6" font-size="19.3" textLength="120.7" lengthAdjust="spacingAndGlyphs">01: COVID-19</text>
<text x="123.9" y="1980.7" font-size="19.3" textLength="170.1" lengthAdjust="spacingAndGlyphs">02: Drug overdose</text>
<text x="123.9" y="2009" font-size="19.3" textLength="232.1" lengthAdjust="spacingAndGlyphs">03: Unintentional injuries</text>
<text x="123.9" y="2030.4" font-size="19.3" textLength="229.9" lengthAdjust="spacingAndGlyphs">excluding drug overdose</text>
<text x="123.9" y="2051.6" font-size="19.3" textLength="104.6" lengthAdjust="spacingAndGlyphs">04: Suicide</text>
<text x="123.9" y="2073.3" font-size="19.3" textLength="229.9" lengthAdjust="spacingAndGlyphs">excluding drug overdose</text>
<text x="123.9" y="2099.2" font-size="19.3" textLength="359.1" lengthAdjust="spacingAndGlyphs">05: Homicide excluding drug overdose</text>
<text x="123.9" y="2123.2" font-size="19.3" textLength="164.4" lengthAdjust="spacingAndGlyphs">06: Heart disease</text>
<text x="123.9" y="2143.3" font-size="19.3" textLength="230.7" lengthAdjust="spacingAndGlyphs">07: Malignant neoplasms</text>
<text x="123.9" y="2168.4" font-size="19.3" textLength="227.1" lengthAdjust="spacingAndGlyphs">08: Chronic liver disease</text>
<text x="123.9" y="2189.5" font-size="19.3" textLength="117.9" lengthAdjust="spacingAndGlyphs">and cirrhosis</text>
<text x="123.9" y="2215.4" font-size="19.3" textLength="194.9" lengthAdjust="spacingAndGlyphs">09: Diabetes mellitus</text>
<text x="123.9" y="2242.2" font-size="19.3" textLength="266.6" lengthAdjust="spacingAndGlyphs">10: Cerebrovascular diseases</text>
<text x="123.9" y="2268.4" font-size="19.3" textLength="129.7" lengthAdjust="spacingAndGlyphs">11: Septicemia</text>
<text x="123.9" y="2291" font-size="19.3" textLength="309.2" lengthAdjust="spacingAndGlyphs">12: Nephritis, nephrotic syndrome</text>
<text x="123.9" y="2312.7" font-size="19.3" textLength="129.7" lengthAdjust="spacingAndGlyphs">and nephrosis</text>
<text x="123.9" y="2336.7" font-size="19.3" textLength="114.2" lengthAdjust="spacingAndGlyphs">13: Influenza</text>
<text x="123.9" y="2358.5" font-size="19.3" textLength="143.8" lengthAdjust="spacingAndGlyphs">and pneumonia</text>
<text x="123.9" y="2380.5" font-size="19.3" textLength="348.4" lengthAdjust="spacingAndGlyphs">14: Chronic lower respiratory diseases</text>
<text x="123.9" y="2403" font-size="19.3" textLength="226.5" lengthAdjust="spacingAndGlyphs">15: Pregnancy, childbirth</text>
<text x="123.9" y="2424.8" font-size="19.3" textLength="182.8" lengthAdjust="spacingAndGlyphs">and the puerperium</text>
<text x="123.9" y="2448.2" font-size="19.3" textLength="237.8" lengthAdjust="spacingAndGlyphs">16: Essential hypertension</text>
<text x="123.9" y="2469.9" font-size="19.3" textLength="284.3" lengthAdjust="spacingAndGlyphs">and hypertensive renal disease</text>
<text x="123.9" y="2491.9" font-size="19.3" textLength="320.5" lengthAdjust="spacingAndGlyphs">17: Human immunodeficiency virus</text>
<text x="123.9" y="2515.9" font-size="19.3" textLength="181.9" lengthAdjust="spacingAndGlyphs">18: Aortic aneurysm</text>
<text x="123.9" y="2536.5" font-size="19.3" textLength="133.9" lengthAdjust="spacingAndGlyphs">and dissection</text>
<circle cx="513.3" cy="1936.8" r="4.75" fill="#A0A0A0"/>
<circle cx="513.3" cy="1975" r="4.75" fill="#A0A0A0"/>
<circle cx="513.3" cy="2013.9" r="4.75" fill="#5380C0"/>
<circle cx="513.3" cy="2056.6" r="4.75" fill="#C8E8E2"/>
<circle cx="513.3" cy="2092" r="4.75" fill="#A0A0A0"/>
<circle cx="513.3" cy="2117.8" r="4.75" fill="#A0A0A0"/>
<circle cx="513.3" cy="2137.4" r="4.75" fill="#A0A0A0"/>
<circle cx="513.3" cy="2171.2" r="4.75" fill="#A0A0A0"/>
<circle cx="513.3" cy="2210" r="4.75" fill="#A0A0A0"/>
<circle cx="513.3" cy="2237.2" r="4.75" fill="#A0A0A0"/>
<circle cx="513.3" cy="2263.7" r="4.75" fill="#A0A0A0"/>
<circle cx="513.3" cy="2296.4" r="4.75" fill="#A0A0A0"/>
<circle cx="513.3" cy="2341.8" r="4.75" fill="#A0A0A0"/>
<circle cx="513.3" cy="2375.5" r="4.75" fill="#A0A0A0"/>
<circle cx="513.3" cy="2408.9" r="4.75" fill="#A0A0A0"/>
<circle cx="513.3" cy="2453.6" r="4.75" fill="#A0A0A0"/>
<circle cx="513.3" cy="2486.6" r="4.75" fill="#A0A0A0"/>
<circle cx="513.3" cy="2520" r="4.75" fill="#A0A0A0"/>
<text x="533.1" y="1933.7" font-size="19.3" textLength="404.7" lengthAdjust="spacingAndGlyphs">19: Congenital malformations, deformations</text>
<text x="533.1" y="1954.4" font-size="19.3" textLength="298.7" lengthAdjust="spacingAndGlyphs">and chromosomal abnormalities</text>
<text x="533.1" y="1980.9" font-size="19.3" textLength="114" lengthAdjust="spacingAndGlyphs">20: Anemias</text>
<text x="533.1" y="2010.1" font-size="19.3" textLength="266.4" lengthAdjust="spacingAndGlyphs">21: Pneumonitis due to solids</text>
<text x="533.1" y="2032.5" font-size="19.3" textLength="101.9" lengthAdjust="spacingAndGlyphs">and liquids</text>
<text x="533.1" y="2052.4" font-size="19.3" textLength="373.8" lengthAdjust="spacingAndGlyphs">22: In situ neoplasms, benign neoplasms</text>
<text x="533.1" y="2074.5" font-size="19.3" textLength="456.3" lengthAdjust="spacingAndGlyphs">and neoplasms of uncertain or unknown behavior</text>
<text x="533.1" y="2099.6" font-size="19.3" textLength="434" lengthAdjust="spacingAndGlyphs">23: Complications of medical and surgical care</text>
<text x="533.1" y="2124.7" font-size="19.3" textLength="160.4" lengthAdjust="spacingAndGlyphs">24: Viral hepatitis</text>
<text x="533.1" y="2144.3" font-size="19.3" textLength="200.7" lengthAdjust="spacingAndGlyphs">25: Legal intervention</text>
<text x="533.1" y="2178" font-size="19.3" textLength="143.9" lengthAdjust="spacingAndGlyphs">26: Peptic ulcer</text>
<text x="533.1" y="2216.2" font-size="19.3" textLength="245.1" lengthAdjust="spacingAndGlyphs">27: Nutritional deficiencies</text>
<text x="533.1" y="2243.7" font-size="19.3" textLength="200.3" lengthAdjust="spacingAndGlyphs">28: Alzheimer disease</text>
<text x="533.1" y="2269.9" font-size="19.3" textLength="197.2" lengthAdjust="spacingAndGlyphs">29: Parkinson disease</text>
<text x="533.1" y="2292.2" font-size="19.3" textLength="160.4" lengthAdjust="spacingAndGlyphs">30: Cholelithiasis</text>
<text x="533.1" y="2314.6" font-size="19.3" textLength="315.3" lengthAdjust="spacingAndGlyphs">and other disorders of gallbladder</text>
<text x="533.1" y="2348.7" font-size="19.3" textLength="394.4" lengthAdjust="spacingAndGlyphs">31: Enterocolitis due to <tspan font-style="italic">Clostridium difficile</tspan></text>
<text x="533.1" y="2382.4" font-size="19.3" textLength="214.4" lengthAdjust="spacingAndGlyphs">32: Infections of kidney</text>
<text x="533.1" y="2415.8" font-size="19.3" textLength="95.7" lengthAdjust="spacingAndGlyphs">33: Hernia</text>
<text x="533.1" y="2460.5" font-size="19.3" textLength="130.5" lengthAdjust="spacingAndGlyphs">34: Meningitis</text>
<text x="533.1" y="2493.5" font-size="19.3" textLength="149.4" lengthAdjust="spacingAndGlyphs">35: Tuberculosis</text>
<text x="533.1" y="2526.9" font-size="19.3" textLength="177.6" lengthAdjust="spacingAndGlyphs">36: Atherosclerosis</text>
<circle cx="1018.1" cy="1936.8" r="4.75" fill="#A0A0A0"/>
<circle cx="1018.1" cy="1975.4" r="4.75" fill="#A0A0A0"/>
<circle cx="1018.1" cy="2014.1" r="4.75" fill="#A0A0A0"/>
<circle cx="1018.1" cy="2056.5" r="4.75" fill="#A0A0A0"/>
<circle cx="1018.1" cy="2092.4" r="4.75" fill="#A0A0A0"/>
<circle cx="1018.1" cy="2118.2" r="4.75" fill="#A0A0A0"/>
<circle cx="1018.1" cy="2137.9" r="4.75" fill="#A0A0A0"/>
<circle cx="1018.1" cy="2171.2" r="4.75" fill="#A0A0A0"/>
<circle cx="1018.1" cy="2210" r="4.75" fill="#A0A0A0"/>
<circle cx="1018.1" cy="2236.8" r="4.75" fill="#A0A0A0"/>
<circle cx="1018.1" cy="2263" r="4.75" fill="#A0A0A0"/>
<circle cx="1018.1" cy="2296.6" r="4.75" fill="#A0A0A0"/>
<circle cx="1018.1" cy="2341.9" r="4.75" fill="#A0A0A0"/>
<circle cx="1018.1" cy="2375.2" r="4.75" fill="#A0A0A0"/>
<circle cx="1018.1" cy="2408.9" r="4.75" fill="#A0A0A0"/>
<circle cx="1018.1" cy="2453.5" r="4.75" fill="#A0A0A0"/>
<circle cx="1018.1" cy="2486.8" r="4.75" fill="#A0A0A0"/>
<text x="1037.5" y="1932.7" font-size="19.3" textLength="264.2" lengthAdjust="spacingAndGlyphs">37: Inflammatory diseases of</text>
<text x="1037.5" y="1955.5" font-size="19.3" textLength="193.4" lengthAdjust="spacingAndGlyphs">female pelvic organs</text>
<text x="1037.5" y="1981.1" font-size="19.3" textLength="346.2" lengthAdjust="spacingAndGlyphs">38: Acute bronchitis and bronchiolitis</text>
<text x="1037.5" y="2020.3" font-size="19.3" textLength="350.8" lengthAdjust="spacingAndGlyphs">39: Arthropod-borne viral encephalitis</text>
<text x="1037.5" y="2052.8" font-size="19.3" textLength="311.9" lengthAdjust="spacingAndGlyphs">40: Certain conditions originating</text>
<text x="1037.5" y="2075.2" font-size="19.3" textLength="204.9" lengthAdjust="spacingAndGlyphs">in the perinatal period</text>
<text x="1037.5" y="2098.9" font-size="19.3" textLength="225.8" lengthAdjust="spacingAndGlyphs">41: Diseases of appendix</text>
<text x="1037.5" y="2124.5" font-size="19.3" textLength="249.5" lengthAdjust="spacingAndGlyphs">42: Hyperplasia of prostate</text>
<text x="1037.5" y="2144.7" font-size="19.3" textLength="101.4" lengthAdjust="spacingAndGlyphs">43: Malaria</text>
<text x="1037.5" y="2178.1" font-size="19.3" textLength="263.2" lengthAdjust="spacingAndGlyphs">44: Meningococcal infection</text>
<text x="1037.5" y="2216" font-size="19.3" textLength="374.8" lengthAdjust="spacingAndGlyphs">45: Operations of war and their sequelae</text>
<text x="1037.5" y="2243" font-size="19.3" textLength="388.9" lengthAdjust="spacingAndGlyphs">46: Pneumoconioses and chemical effects</text>
<text x="1037.5" y="2269.2" font-size="19.3" textLength="232" lengthAdjust="spacingAndGlyphs">47: Salmonella infections</text>
<text x="1037.5" y="2292" font-size="19.3" textLength="151.9" lengthAdjust="spacingAndGlyphs">48: Scarlet fever</text>
<text x="1037.5" y="2313.8" font-size="19.3" textLength="134.1" lengthAdjust="spacingAndGlyphs">and erysipelas</text>
<text x="1037.5" y="2338.1" font-size="19.3" textLength="134.8" lengthAdjust="spacingAndGlyphs">49: Shigellosis</text>
<text x="1037.5" y="2360" font-size="19.3" textLength="132" lengthAdjust="spacingAndGlyphs">and amebiasis</text>
<text x="1037.5" y="2381.8" font-size="19.3" textLength="108.3" lengthAdjust="spacingAndGlyphs">50: Syphilis</text>
<text x="1037.5" y="2415.1" font-size="19.3" textLength="105.2" lengthAdjust="spacingAndGlyphs">51: Measles</text>
<text x="1037.5" y="2459.7" font-size="19.3" textLength="192.5" lengthAdjust="spacingAndGlyphs">52: Whooping cough</text>
<text x="1037.5" y="2493.1" font-size="19.3" textLength="211.2" lengthAdjust="spacingAndGlyphs">53: Acute poliomyelitis</text>
</svg>
</body></html>
